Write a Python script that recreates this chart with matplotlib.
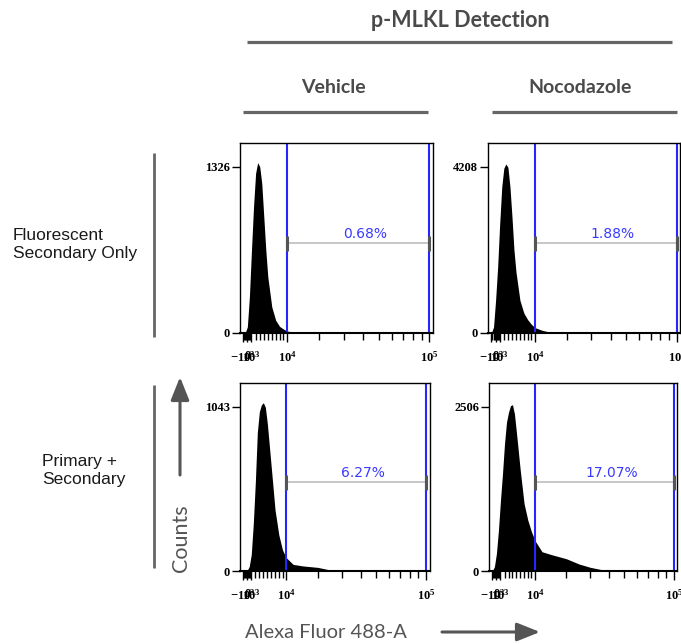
import numpy as np
import matplotlib.pyplot as plt
from matplotlib.ticker import FixedLocator

plt.rcParams['mathtext.default'] = 'regular'

# ---- data ----
fl_top = [-1000, -500, 0, 500, 1000, 1500, 2000, 2500, 3000, 3500, 4000,
          4500, 5000, 6000, 7000, 8000, 9000, 10000, 12000, 15000]
vehicle_sec = [0, 3, 48, 288, 660, 1007, 1273, 1358, 1326, 1193, 927,
               660, 447, 208, 101, 53, 32, 16, 5, 0]
nocod_sec = [8, 150, 828, 1673, 2772, 3701, 4166, 4276, 4191, 3701, 2941,
             2096, 1546, 828, 507, 338, 220, 135, 68, 8]

fl_veh_prim = [-1000, -500, 0, 500, 1000, 1500, 2000, 2500, 3000, 3500, 4000,
               4500, 5000, 6000, 7000, 8000, 9000, 10000, 12000, 15000,
               20000, 25000, 30000]
vehicle_prim = [0, 0, 4, 28, 105, 300, 560, 880, 1011, 1054, 1068,
                1039, 937, 662, 387, 229, 133, 85, 42, 32,
                23, 6, 0]

fl_noc_prim = [-1000, -500, 0, 500, 1000, 1500, 2000, 2500, 3000, 3500, 4000,
               4500, 5000, 6000, 7000, 8000, 9000, 10000, 12000, 15000,
               20000, 25000, 30000, 35000, 40000, 45000]
nocod_prim = [0, 66, 268, 623, 1078, 1483, 1939, 2268, 2420, 2521, 2536,
              2395, 2116, 1534, 1028, 775, 597, 461, 294, 248,
              187, 106, 56, 25, 5, 0]

y_max_labels = [1326, 4208, 1043, 2506]
gate_pct = ['0.68%', '1.88%', '6.27%', '17.07%']
gate_lo, gate_hi = 1e4, 1e5

W, H = 681, 644
fig = plt.figure(figsize=(W / 100, H / 100), dpi=100)

# FlowJo biex axis, approximated with arcsinh
C = 18300.0
def fwd(x):
    return np.arcsinh(np.asarray(x) / C)
def inv(y):
    return C * np.sinh(y)

def px_rect(l, t, w, h):
    return [l / W, 1 - (t + h) / H, w / W, h / H]

rects = [px_rect(240, 143, 193, 190), px_rect(488.3, 143, 192, 190),
         px_rect(240, 383.3, 189.5, 187.7), px_rect(489.3, 383.3, 188, 187.7)]
series = [(fl_top, vehicle_sec), (fl_top, nocod_sec),
          (fl_veh_prim, vehicle_prim), (fl_noc_prim, nocod_prim)]

minor = [v for v in np.arange(-1000, 1001, 250) if v not in (-1000, 0, 1000)]
minor += list(range(2000, 10000, 1000)) + list(range(20000, 100000, 10000))
tickfont = dict(fontfamily='Liberation Serif', fontweight='bold', fontsize=9)
gate_y = 0.473
blue = '#2626ff'

for rect, (xs, ys), ymax, pct in zip(rects, series, y_max_labels, gate_pct):
    ax = fig.add_axes(rect)
    ax.set_xscale('function', functions=(fwd, inv))
    ax.set_xlim(-1770, 104800)
    ax.set_ylim(0, ymax * 1.142)
    ax.fill_between(xs, ys, color='black', lw=0)

    ax.axvline(gate_lo, color=blue, lw=1.5)
    ax.axvline(gate_hi, color=blue, lw=1.5)
    tr = ax.get_xaxis_transform()
    ax.plot([gate_lo, gate_hi], [gate_y, gate_y], color='#bdbdbd', lw=1.2, transform=tr)
    for gx in (gate_lo, gate_hi):
        ax.plot([gx, gx], [gate_y - 0.04, gate_y + 0.04], color='#555555',
                lw=2.2, transform=tr, solid_capstyle='butt', zorder=4)
    mid = inv((fwd(gate_lo) + fwd(gate_hi)) / 2)
    ax.annotate(pct, xy=(mid, gate_y), xycoords=tr, xytext=(5, 1.5),
                textcoords='offset points', ha='center', va='bottom',
                color='#3a3aff', fontsize=10, family='DejaVu Sans')

    ax.set_xticks([-1000, 0, 1000, 1e4, 1e5],
                  labels=['$-10^{3}$', '0', '$10^{3}$', '$10^{4}$', '$10^{5}$'],
                  **tickfont)
    ax.xaxis.set_minor_locator(FixedLocator(minor))
    ax.set_yticks([0, ymax], labels=['0', str(ymax)], **tickfont)
    ax.tick_params(axis='x', which='major', length=6.5, width=1, pad=5.5)
    ax.tick_params(axis='x', which='minor', length=5, width=1)
    ax.tick_params(axis='y', length=5.5, width=1, pad=2)
    for s in ax.spines.values():
        s.set_linewidth(1.0)
    ax.spines['bottom'].set_linewidth(1.5)

# ---- headers, row labels and axis arrows (pixel coords) ----
deco = fig.add_axes([0, 0, 1, 1], zorder=-1)
deco.set_xlim(0, W)
deco.set_ylim(H, 0)
deco.axis('off')
grey = '#4a4a4a'
line_grey = '#666666'

deco.text(460, 20, 'p-MLKL Detection', ha='center', va='center', fontsize=15.5,
          fontweight='bold', family='Lato', color=grey)
deco.plot([247, 672], [42, 42], color=line_grey, lw=2.3, solid_capstyle='butt')
deco.text(333, 87, 'Vehicle', ha='center', va='center', fontsize=14,
          fontweight='bold', family='Lato', color=grey)
deco.text(580, 87, 'Nocodazole', ha='center', va='center', fontsize=14,
          fontweight='bold', family='Lato', color=grey)
deco.plot([243, 428], [112, 112], color=line_grey, lw=2.3, solid_capstyle='butt')
deco.plot([492, 677], [112, 112], color=line_grey, lw=2.3, solid_capstyle='butt')

deco.text(13, 244, 'Fluorescent\nSecondary Only', ha='left', va='center',
          fontsize=12.5, family='Liberation Sans', linespacing=1.25, color='#1a1a1a')
deco.text(42, 470, 'Primary +\nSecondary', ha='left', va='center',
          fontsize=12.5, family='Liberation Sans', linespacing=1.25, color='#1a1a1a')
deco.plot([154, 154], [153, 337], color=line_grey, lw=2, solid_capstyle='butt')
deco.plot([154, 154], [385, 568], color=line_grey, lw=2, solid_capstyle='butt')

arrow = dict(arrowstyle='-|>,head_length=1.0,head_width=0.4', mutation_scale=14,
             lw=2.2, color='#555555', shrinkA=0, shrinkB=0)
deco.annotate('', xy=(180, 377), xytext=(180, 475), arrowprops=arrow)
deco.text(181, 538, 'Counts', rotation=90, ha='center', va='center',
          fontsize=15.5, family='Lato', color='#555555')
deco.text(245, 633, 'Alexa Fluor 488-A', ha='left', va='center',
          fontsize=14.5, family='Lato', color='#555555')
deco.annotate('', xy=(540, 632), xytext=(442, 632), arrowprops=arrow)

fig.savefig('out.png', dpi=100)
